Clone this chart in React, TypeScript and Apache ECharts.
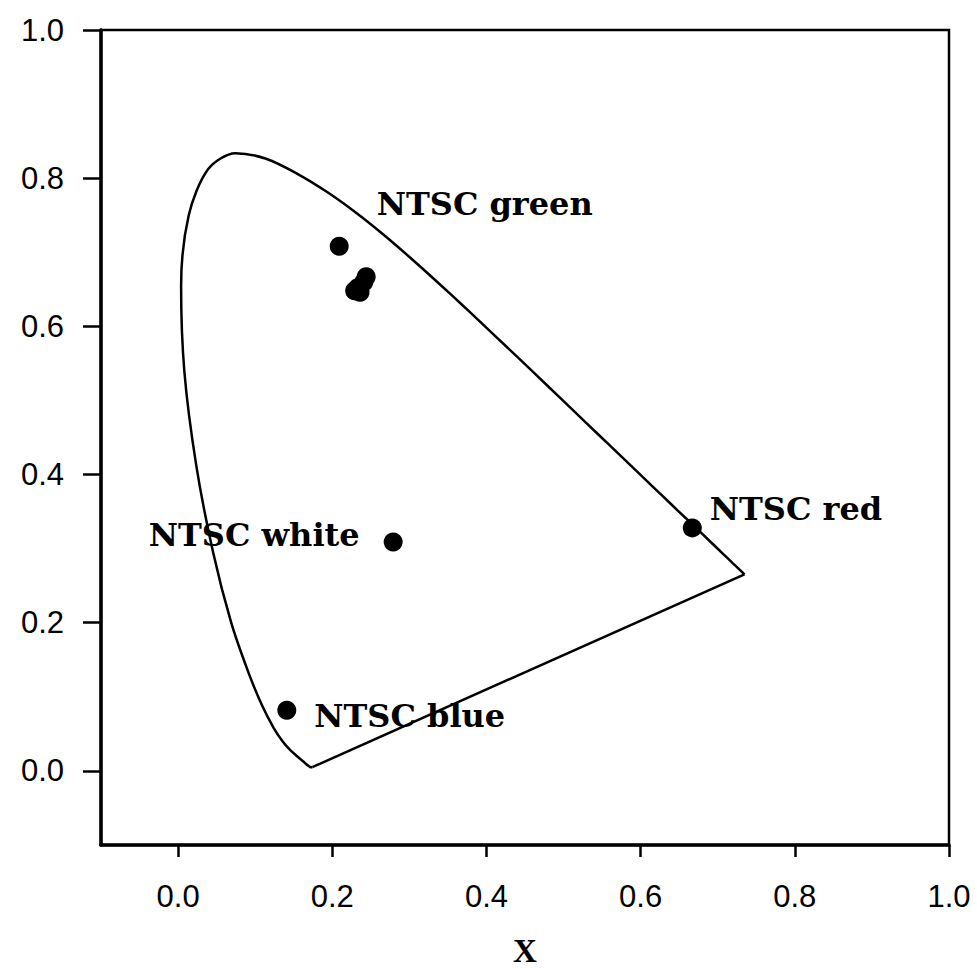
import React, { useEffect, useRef } from "react";
import * as echarts from "echarts";

// Spectral locus (CIE 1931 chromaticity)
const locusX = [
  0.1741, 0.1738, 0.1733, 0.1726, 0.1714, 0.1689, 0.1644, 0.1566, 0.144, 0.1355,
  0.1241, 0.1096, 0.0913, 0.0687, 0.0454, 0.0235, 0.0082, 0.0039, 0.0139, 0.0389,
  0.0743, 0.1142, 0.1547, 0.1929, 0.2296, 0.2658, 0.3016, 0.3373, 0.3731, 0.4087,
  0.4441, 0.4788, 0.5125, 0.5448, 0.5752, 0.6029, 0.627, 0.6482, 0.6658, 0.6915,
  0.7079, 0.719, 0.726, 0.73, 0.7334, 0.7347,
];
const locusY = [
  0.005, 0.0049, 0.0048, 0.0048, 0.0051, 0.0069, 0.0109, 0.0177, 0.0297, 0.0399,
  0.0578, 0.0868, 0.1327, 0.2007, 0.295, 0.4127, 0.5384, 0.6548, 0.7502, 0.812,
  0.8338, 0.8262, 0.8059, 0.7816, 0.7543, 0.7243, 0.6923, 0.6589, 0.6245, 0.5896,
  0.5547, 0.5202, 0.4866, 0.4544, 0.4242, 0.3965, 0.3725, 0.3514, 0.334, 0.3083,
  0.292, 0.2809, 0.274, 0.27, 0.2666, 0.2653,
];

// NTSC reference points
const ntscNames = ["NTSC green", "NTSC red", "NTSC white", "NTSC blue"];
const ntscX = [0.209, 0.667, 0.279, 0.141];
const ntscY = [0.708, 0.328, 0.309, 0.082];

// Measured green points (cluster)
const measX = [0.244, 0.241, 0.233, 0.236, 0.229];
const measY = [0.667, 0.66, 0.652, 0.646, 0.648];

const tickValues = [0, 0.2, 0.4, 0.6, 0.8, 1.0];

export default function App() {
  const ref = useRef<HTMLDivElement>(null);
  useEffect(() => {
    if (!ref.current) return;
    const chart = echarts.init(ref.current, null, { renderer: "svg" });
    const labelPlace: Record<string, any> = {
      "NTSC green": { position: "right", distance: 28, offset: [0, -42] },
      "NTSC red": { position: "right", distance: 8, offset: [0, -19] },
      "NTSC white": { position: "left", distance: 24, offset: [0, -7] },
      "NTSC blue": { position: "right", distance: 18, offset: [0, 6] },
    };
    const labelFont = {
      fontFamily: "DejaVu Serif",
      fontWeight: "bold",
      fontSize: 32,
      color: "#000",
    };
    const tickFont = {
      fontFamily: "Liberation Sans, Arial",
      fontSize: 31,
      color: "#000",
    };
    const last = locusX.length - 1;
    chart.setOption({
      animation: false,
      backgroundColor: "#fff",
      grid: {
        left: 101,
        right: 28,
        top: 30,
        bottom: 124,
        outerBoundsMode: "none",
        containLabel: false,
        show: true,
        borderColor: "#000",
        borderWidth: 2.5,
        backgroundColor: "transparent",
      },
      xAxis: {
        type: "value",
        min: -0.1,
        max: 1.0,
        name: "X",
        nameLocation: "middle",
        nameGap: 89,
        nameTextStyle: {
          fontFamily: "Liberation Serif",
          fontWeight: "bold",
          fontSize: 33,
          color: "#000",
        },
        splitLine: { show: false },
        axisLine: { show: true, onZero: false, lineStyle: { color: "#000", width: 3.5 } },
        axisTick: {
          show: true,
          customValues: tickValues,
          length: 12,
          lineStyle: { color: "#000", width: 2.5 },
        },
        axisLabel: {
          customValues: tickValues,
          margin: 36,
          formatter: (v: number) => v.toFixed(1),
          ...tickFont,
        },
      },
      yAxis: {
        type: "value",
        min: -0.1,
        max: 1.0,
        splitLine: { show: false },
        axisLine: { show: true, onZero: false, lineStyle: { color: "#000", width: 3.5 } },
        axisTick: {
          show: true,
          customValues: tickValues,
          length: 18,
          lineStyle: { color: "#000", width: 2.5 },
        },
        axisLabel: {
          customValues: tickValues,
          margin: 37,
          formatter: (v: number) => v.toFixed(1),
          ...tickFont,
        },
      },
      series: [
        {
          type: "line",
          data: locusX.map((x, i) => [x, locusY[i]]),
          showSymbol: false,
          symbol: "none",
          smooth: 0.3,
          lineStyle: { color: "#000", width: 2.5 },
          z: 2,
        },
        {
          type: "line",
          data: [
            [locusX[last], locusY[last]],
            [locusX[0], locusY[0]],
          ],
          showSymbol: false,
          symbol: "none",
          lineStyle: { color: "#000", width: 2.5 },
          z: 2,
        },
        {
          type: "scatter",
          data: measX.map((x, i) => [x, measY[i]]),
          symbolSize: 19,
          itemStyle: { color: "#000", opacity: 1 },
          z: 3,
        },
        {
          type: "scatter",
          data: ntscNames.map((n, i) => ({
            name: n,
            value: [ntscX[i], ntscY[i]],
            label: {
              show: true,
              formatter: n,
              ...labelPlace[n],
              ...labelFont,
            },
          })),
          symbolSize: 19,
          itemStyle: { color: "#000", opacity: 1 },
          z: 4,
        },
      ],
    });
    return () => chart.dispose();
  }, []);
  return (
    <div
      ref={ref}
      style={{ position: "fixed", left: 0, top: 0, width: 977, height: 969, background: "#fff" }}
    />
  );
}
